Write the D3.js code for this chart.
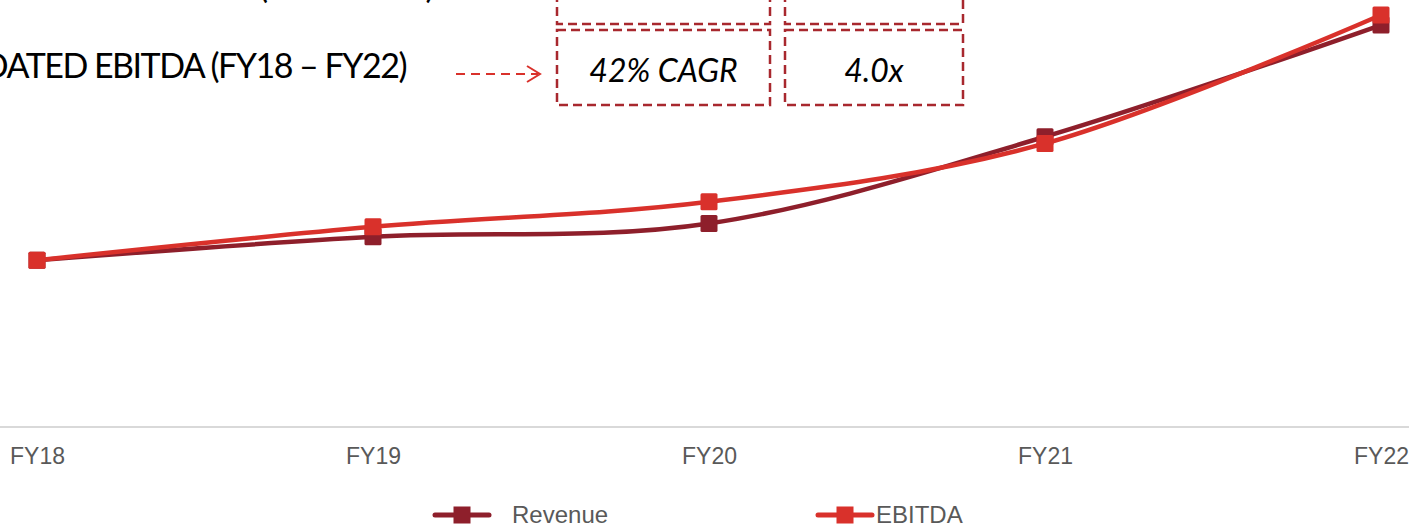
<!DOCTYPE html>
<html>
<head>
<meta charset="utf-8">
<script src="https://cdn.jsdelivr.net/npm/d3@7"></script>
<style>
  body { margin: 0; background: #fff; }
  svg { display: block; }
</style>
</head>
<body>
<script>
var w = 1409;
var h = 527;

// data (index, FY18 = 100)
var categories = ["FY18", "FY19", "FY20", "FY21", "FY22"];
var revenue = [100, 114, 122, 174, 241];
var ebitda = [100, 120, 135, 170, 247];
var seriesNames = ["Revenue", "EBITDA"];
var calloutLabels = ["42% CAGR", "4.0x"];

var revColor = "#8E1F2B";
var ebitdaColor = "#D9312B";
var boxColor = "#A8282E";

var svg = d3.select("body")
            .append("svg")
            .attr("width", w)
            .attr("height", h);

// scales
var xScale = d3.scalePoint()
               .domain(categories)
               .range([37, 1381]);

var yScale = d3.scaleLinear()
               .domain([0, 256])
               .range([427, 0]);

// bottom axis line across the whole width
svg.append("line")
   .attr("x1", 0)
   .attr("x2", w)
   .attr("y1", yScale(0))
   .attr("y2", yScale(0))
   .attr("stroke", "#D9D9D9")
   .attr("stroke-width", 2);

var xAxis = d3.axisBottom(xScale)
              .tickSize(0)
              .tickPadding(21);

var gx = svg.append("g")
   .attr("transform", "translate(0," + yScale(0) + ")")
   .call(xAxis);
gx.select(".domain").remove();
gx.selectAll("text")
  .attr("font-family", "Liberation Sans, Arial, sans-serif")
  .attr("font-size", 23)
  .attr("fill", "#595959");

// lines
var line = d3.line()
             .x(function (d, i) { return xScale(categories[i]); })
             .y(function (d) { return yScale(d); })
             .curve(d3.curveCatmullRom.alpha(0));

var series = [
  { name: seriesNames[0], values: revenue, color: revColor },
  { name: seriesNames[1], values: ebitda, color: ebitdaColor }
];

var ms = 17; // marker size

series.forEach(function (s) {
    svg.append("path")
       .datum(s.values)
       .attr("d", line)
       .attr("fill", "none")
       .attr("stroke", s.color)
       .attr("stroke-width", 4.5)
       .attr("stroke-linecap", "round");

    svg.selectAll(null)
       .data(s.values)
       .enter()
       .append("rect")
       .attr("x", function (d, i) { return xScale(categories[i]) - ms / 2; })
       .attr("y", function (d) { return yScale(d) - ms / 2; })
       .attr("width", ms)
       .attr("height", ms)
       .attr("rx", 1.5)
       .attr("fill", s.color);
});

// legend
var legendX = [462, 845];
var legendY = 515;
series.forEach(function (s, i) {
    var g = svg.append("g").attr("transform", "translate(" + legendX[i] + "," + legendY + ")");
    g.append("line")
     .attr("x1", -27).attr("x2", 27)
     .attr("stroke", s.color)
     .attr("stroke-width", 5)
     .attr("stroke-linecap", "round");
    g.append("rect")
     .attr("x", -ms / 2).attr("y", -ms / 2)
     .attr("width", ms).attr("height", ms)
     .attr("fill", s.color);
    g.append("text")
     .attr("x", i === 0 ? 50 : 31)
     .attr("y", 8)
     .attr("font-family", "Liberation Sans, Arial, sans-serif")
     .attr("font-size", 24)
     .attr("fill", "#595959")
     .text(s.name);
});

// headings (cut off at the left / top edge in the original)
var headFont = "Lato, 'Open Sans', sans-serif";
svg.append("text")
   .attr("x", 433).attr("y", -2)
   .attr("text-anchor", "end")
   .attr("font-family", headFont)
   .attr("font-size", 34)
   .attr("letter-spacing", -1.5)
   .attr("fill", "#000")
   .text("CONSOLIDATED REVENUE (FY18-FY22)");

svg.append("text")
   .attr("x", 406).attr("y", 78)
   .attr("text-anchor", "end")
   .attr("font-family", headFont)
   .attr("font-size", 34)
   .attr("letter-spacing", -1.5)
   .attr("fill", "#000")
   .text("CONSOLIDATED EBITDA (FY18 \u2013 FY22)");

// dashed arrow
svg.append("line")
   .attr("x1", 456).attr("x2", 538)
   .attr("y1", 74).attr("y2", 74)
   .attr("stroke", ebitdaColor)
   .attr("stroke-width", 2)
   .attr("stroke-dasharray", "9,6");
svg.append("path")
   .attr("d", "M527,66 L540,74 L527,82")
   .attr("fill", "none")
   .attr("stroke", ebitdaColor)
   .attr("stroke-width", 2);

// callout boxes
var boxes = [
  { x: 557, w: 213 },
  { x: 785, w: 178 }
];
boxes.forEach(function (b, i) {
    // upper box (mostly off screen)
    svg.append("rect")
       .attr("x", b.x).attr("y", -60)
       .attr("width", b.w).attr("height", 84)
       .attr("fill", "none")
       .attr("stroke", boxColor)
       .attr("stroke-width", 2.5)
       .attr("stroke-dasharray", "9,5");
    svg.append("rect")
       .attr("x", b.x).attr("y", 30)
       .attr("width", b.w).attr("height", 75)
       .attr("fill", "none")
       .attr("stroke", boxColor)
       .attr("stroke-width", 2.5)
       .attr("stroke-dasharray", "9,5");
    svg.append("text")
       .attr("x", b.x + b.w / 2).attr("y", 82)
       .attr("text-anchor", "middle")
       .attr("font-family", headFont)
       .attr("font-style", "italic")
       .attr("font-size", 32)
       .attr("fill", "#000")
       .text(calloutLabels[i]);
});
</script>
</body>
</html>
